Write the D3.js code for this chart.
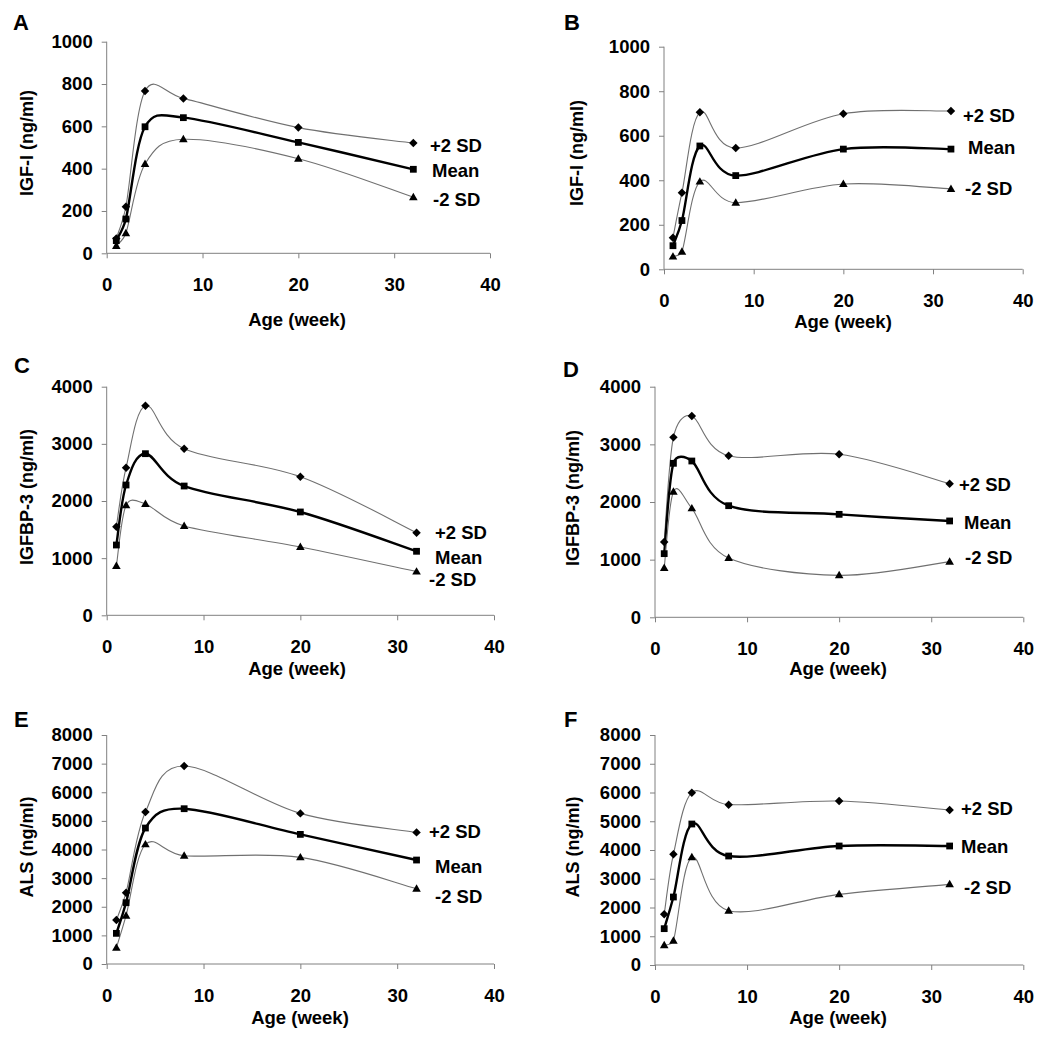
<!DOCTYPE html>
<html><head><meta charset="utf-8">
<script src="https://cdn.jsdelivr.net/npm/d3@7"></script>
<style>
html,body{margin:0;padding:0;background:#fff;}
svg{display:block;}
text{font-family:"Liberation Sans",Arial,sans-serif;font-weight:bold;fill:#000;}
</style></head>
<body>
<svg id="chart" width="1050" height="1044"></svg>
<script>
// ---------- data ----------
const weeks = [1, 2, 4, 8, 20, 32];
const seriesLabels = ["+2 SD", "Mean", "-2 SD"];
const xTicks = [0, 10, 20, 30, 40];
const panelLetters = ["A", "B", "C", "D", "E", "F"];
const yTitles = ["IGF-I (ng/ml)", "IGF-I (ng/ml)", "IGFBP-3 (ng/ml)", "IGFBP-3 (ng/ml)", "ALS (ng/ml)", "ALS (ng/ml)"];
const xTitle = "Age (week)";
const yTicksIGF = [0, 200, 400, 600, 800, 1000];
const yTicksBP3 = [0, 1000, 2000, 3000, 4000];
const yTicksALS = [0, 1000, 2000, 3000, 4000, 5000, 6000, 7000, 8000];

const A_plus  = [70, 220, 767, 732, 594, 521];
const A_mean  = [60, 162, 598, 641, 524, 397];
const A_minus = [35, 95, 422, 539, 447, 265];

const B_plus  = [142, 344, 705, 545, 699, 711];
const B_mean  = [106, 219, 554, 421, 540, 540];
const B_minus = [57, 79, 394, 299, 383, 361];

const C_plus  = [1551, 2583, 3668, 2915, 2426, 1446];
const C_mean  = [1230, 2280, 2828, 2262, 1808, 1120];
const C_minus = [863, 1924, 1948, 1563, 1195, 764];

const D_plus  = [1306, 3121, 3491, 2803, 2827, 2318];
const D_mean  = [1104, 2671, 2711, 1936, 1786, 1671];
const D_minus = [855, 2179, 1890, 1029, 728, 965];

const E_plus  = [1537, 2491, 5308, 6915, 5262, 4598];
const E_mean  = [1071, 2142, 4750, 5425, 4528, 3632];
const E_minus = [570, 1688, 4179, 3783, 3725, 2631];

const F_plus  = [1762, 3849, 5994, 5577, 5704, 5391];
const F_mean  = [1264, 2365, 4904, 3791, 4139, 4139];
const F_minus = [684, 846, 3745, 1890, 2458, 2806];

// ---------- layout ----------
const panels = [
  {data:[A_plus,A_mean,A_minus], yTicks:yTicksIGF, x0:106.7, x1:490, top:41.7, bot:253.3, letter:[13,30], yt:[27,143], xt:[297,320], leg:[[430,146],[432,171],[433,200]]},
  {data:[B_plus,B_mean,B_minus], yTicks:yTicksIGF, x0:664, x1:1022.7, top:46.7, bot:269.3, letter:[564,30], yt:[577,153], xt:[843,322], leg:[[963,116],[968,148],[965,189]]},
  {data:[C_plus,C_mean,C_minus], yTicks:yTicksBP3, x0:106.7, x1:494, top:386.7, bot:615.3, letter:[14,373], yt:[27,497], xt:[297,669], leg:[[435,533],[435,558],[429,580]]},
  {data:[D_plus,D_mean,D_minus], yTicks:yTicksBP3, x0:655, x1:1023.3, top:386.7, bot:617.3, letter:[563,377], yt:[573,498], xt:[838,669], leg:[[959,485],[964,523],[965,558]]},
  {data:[E_plus,E_mean,E_minus], yTicks:yTicksALS, x0:106.7, x1:494, top:735, bot:964, letter:[14,727], yt:[27,847], xt:[300,1018], leg:[[429,832],[435,867],[435,897]]},
  {data:[F_plus,F_mean,F_minus], yTicks:yTicksALS, x0:655, x1:1023.3, top:735, bot:965, letter:[564,727], yt:[573,847], xt:[838,1018], leg:[[961,809],[961,847],[964,888]]}
];

// Spreadsheet-style smoothed line: cubic Bezier through points, handle length
// min(chord/6, segment/2) along the neighbour chord (limits overshoot).
function SmoothCurve(context) { this._context = context; }
SmoothCurve.prototype = {
  areaStart() {}, areaEnd() {},
  lineStart() { this._pts = []; },
  point(x, y) { this._pts.push([+x, +y]); },
  lineEnd() {
    const P = this._pts, c = this._context, n = P.length;
    if (!n) return;
    c.moveTo(P[0][0], P[0][1]);
    const dist = (a, b) => Math.hypot(b[0] - a[0], b[1] - a[1]);
    for (let i = 0; i < n - 1; i++) {
      const p0 = P[i - 1] || P[i], p1 = P[i], p2 = P[i + 1], p3 = P[i + 2] || P[i + 1];
      const d02 = dist(p0, p2), d12 = dist(p1, p2), d13 = dist(p1, p3);
      const h1 = Math.min(d02 / 6, d12 / 2), h2 = Math.min(d13 / 6, d12 / 2);
      const k1 = d02 ? h1 / d02 : 0, k2 = d13 ? h2 / d13 : 0;
      c.bezierCurveTo(
        p1[0] + (p2[0] - p0[0]) * k1, p1[1] + (p2[1] - p0[1]) * k1,
        p2[0] - (p3[0] - p1[0]) * k2, p2[1] - (p3[1] - p1[1]) * k2,
        p2[0], p2[1]);
    }
  }
};
const smoothCurve = ctx => new SmoothCurve(ctx);

const svg = d3.select("#chart");
const axisColor = "#808080";
const lineStyles = [
  {stroke:"#707070", width:1.1},
  {stroke:"#000", width:2.4},
  {stroke:"#707070", width:1.1}
];
const symbols = [
  d3.symbol().type(d3.symbolSquare).size(36),   // diamond (rotated 45)
  d3.symbol().type(d3.symbolSquare).size(46),
  d3.symbol().type(d3.symbolTriangle).size(32)
];

panels.forEach((p, i) => {
  const g = svg.append("g");
  const x = d3.scaleLinear().domain([0, 40]).range([p.x0, p.x1]);
  const yMax = p.yTicks[p.yTicks.length - 1];
  const y = d3.scaleLinear().domain([0, yMax]).range([p.bot, p.top]);

  const yAxis = d3.axisLeft(y).tickValues(p.yTicks).tickSize(5).tickPadding(9).tickFormat(d3.format("d"));
  const ya = g.append("g").attr("transform", `translate(${p.x0},0)`).call(yAxis);
  const xAxis = d3.axisBottom(x).tickValues(xTicks).tickSize(5).tickPadding(20).tickFormat(d3.format("d"));
  const xa = g.append("g").attr("transform", `translate(0,${p.bot})`).call(xAxis);
  [ya, xa].forEach(a => {
    a.selectAll("path.domain").attr("stroke", axisColor).attr("stroke-width", 1);
    a.selectAll(".tick line").attr("stroke", axisColor).attr("stroke-width", 1);
    a.selectAll(".tick text").attr("font-size", 18.5).attr("font-family", "Liberation Sans, Arial, sans-serif").attr("font-weight", "bold").attr("fill", "#000");
  });
  ya.selectAll("path.domain").attr("d", `M0,${p.bot}V${p.top}`);
  xa.selectAll("path.domain").attr("d", `M${p.x0},0H${p.x1}`);

  const line = d3.line().x((d, k) => x(weeks[k])).y(d => y(d)).curve(smoothCurve);
  p.data.forEach((vals, s) => {
    g.append("path").attr("d", line(vals)).attr("fill", "none")
      .attr("stroke", lineStyles[s].stroke).attr("stroke-width", lineStyles[s].width)
      .attr("stroke-linejoin", "round");
  });
  p.data.forEach((vals, s) => {
    g.selectAll(null).data(vals).enter().append("path")
      .attr("d", symbols[s])
      .attr("transform", (d, k) => `translate(${x(weeks[k])},${y(d) + (s === 2 ? 0.5 : 0)})` + (s === 0 ? " rotate(45)" : ""))
      .attr("fill", "#000");
  });
  seriesLabels.forEach((lab, s) => {
    g.append("text").attr("x", p.leg[s][0]).attr("y", p.leg[s][1]).attr("dy", "0.35em")
      .attr("font-size", 18.5).text(lab);
  });
  g.append("text").attr("x", p.letter[0]).attr("y", p.letter[1]).attr("font-size", 22).text(panelLetters[i]);
  g.append("text").attr("transform", `translate(${p.yt[0]},${p.yt[1]}) rotate(-90)`)
    .attr("text-anchor", "middle").attr("dy", "0.35em").attr("font-size", 18).text(yTitles[i]);
  g.append("text").attr("x", p.xt[0]).attr("y", p.xt[1]).attr("text-anchor", "middle").attr("dy", "0.35em")
    .attr("font-size", 18.5).text(xTitle);
});
</script>
</body></html>
